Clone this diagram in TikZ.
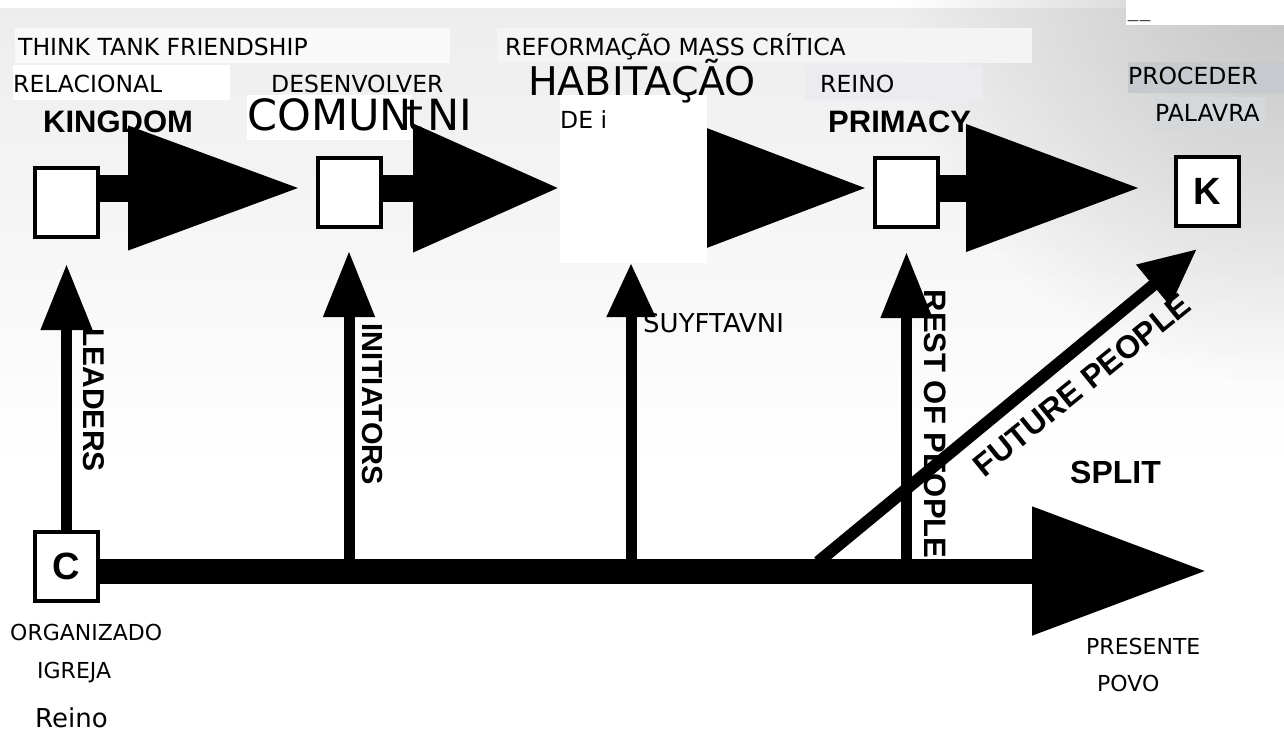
\documentclass[tikz,border=0pt]{standalone}
\usepackage{fontspec}
\setmainfont{DejaVu Sans}
\newfontfamily\arialf{Liberation Sans}
\usetikzlibrary{arrows.meta,fadings}
\newcommand\fsz[1]{\fontsize{#1}{#1}\selectfont}
\definecolor{reibg}{RGB}{236,236,240}
\definecolor{procbg}{RGB}{198,202,207}
\definecolor{palbg}{RGB}{212,216,218}
\tikzfading[name=cornerfade, inner color=transparent!0, outer color=transparent!100]
\begin{document}
\begin{tikzpicture}[x=1pt,y=-1pt,
  box/.style={draw=black,line width=4pt,fill=white,minimum width=63pt,minimum height=69pt,inner sep=0pt,font=\arialf\bfseries\fsz{38}},
  lbl/.style={inner sep=0pt,anchor=base west,font=\fsz{23.5}},
  boldlbl/.style={inner sep=0pt,font=\arialf\bfseries\fsz{31}},
  bigarrow/.style={line width=27pt},
  uparrow/.style={line width=11pt,-{Triangle[length=66pt,width=49pt]}},
  cover/.style={draw=none}]
\useasboundingbox (0,0) rectangle (1284,731);
% background
\begin{scope}
\clip (0,0) rectangle (1284,731);
\fill[white] (0,0) rectangle (1284,731);
\shade[top color=gray!14, bottom color=white] (0,8) rectangle (1284,470);
\fill[gray!45, path fading=cornerfade] (900,-380) rectangle (1660,380);
\end{scope}
% boxes
\node[box] (b1) at (66.5,202.5) {};
\node[box] (b2) at (349,192.5) {};
\node[box] (b4) at (906.5,192.5) {};
\node[box] (bK) at (1207.5,191.5) {K};
\node[box] (bC) at (66.5,566) {C};
\coordinate (hab) at (633,188);
\coordinate (t2) at (560,188);
\coordinate (t3) at (631,263);
\coordinate (mainend) at (1207,571);
\coordinate (j2) at (349,571);
\coordinate (j3) at (631,571);
\coordinate (j4) at (906.5,571);
\coordinate (j5) at (818,562);
\coordinate (fut) at (1197,249);
% top arrows
\draw[bigarrow,-{Triangle[length=173pt,width=117pt]},shorten >=14.5pt] ([yshift=14.5pt]b1.east) -- ([yshift=4.5pt]b2.west);
\draw[bigarrow,-{Triangle[length=147pt,width=121pt]}] ([yshift=4.5pt]b2.east) -- (t2);
\draw[bigarrow,-{Triangle[length=163pt,width=113pt]},shorten >=5pt] (hab) -- ([yshift=4.5pt]b4.west);
\draw[bigarrow,-{Triangle[length=175pt,width=120pt]},shorten >=33pt] ([yshift=4.5pt]b4.east) -- ([yshift=3.5pt]bK.west);
% vertical arrows
\draw[uparrow] (bC.north) -- ([yshift=-25pt]b1.south);
\draw[uparrow] (j2) -- ([yshift=-22pt]b2.south);
\draw[line width=11pt,-{Triangle[length=54pt,width=46pt]}] (j3) -- (t3);
\draw[uparrow] (j4) -- ([yshift=-23pt]b4.south);
\draw[line width=12pt,-{Triangle[length=57pt,width=50pt]}] (j5) -- (fut);
% main arrow
\draw[line width=25pt,-{Triangle[length=175pt,width=122pt]}] ([yshift=-5pt]bC.east) -- (mainend);
% english labels
\node[boldlbl,anchor=base west] (kg) at (43,132) {KINGDOM};
\node[boldlbl,anchor=base west] (pr) at (828,132) {PRIMACY};
\node[boldlbl,anchor=base west,font=\arialf\bfseries\fsz{32}] (sp) at (1070,483) {SPLIT};
\node[boldlbl,rotate=-90,font=\arialf\bfseries\fsz{30}] (ld) at (94,400) {LEADERS};
\node[boldlbl,rotate=-90,font=\arialf\bfseries\fsz{29}] (in) at (372,404) {INITIATORS};
\node[boldlbl,rotate=-90,font=\arialf\bfseries\fsz{31}] (rp) at (935,424) {REST OF PEOPLE};
\node[boldlbl,rotate=39,font=\arialf\bfseries\fsz{32}] (fp) at (1082,385) {FUTURE PEOPLE};
% overlay backgrounds
\fill[cover,white] (1126,0) rectangle (1284,25);
\fill[cover,gray!5] (15,28) rectangle (450,63);
\fill[cover,gray!9] (497,28) rectangle (1032,63);
\fill[cover,white] (13,65) rectangle (230,100);
\fill[cover,white] (247,95) rectangle (412,140);
\fill[cover,reibg] (805,65) rectangle (983,100);
\fill[cover,procbg] (1128,62) rectangle (1284,93);
\fill[cover,palbg] (1155,97) rectangle (1265,130);
\fill[cover,white] (560,95) rectangle (707,263);
% overlay labels
\node[lbl,font=\fsz{12}] (dash) at (1127,24) {——};
\node[lbl] (tt) at (18,55) {THINK TANK FRIENDSHIP};
\node[lbl] (rel) at (13,92) {RELACIONAL};
\node[lbl] (des) at (271,92) {DESENVOLVER};
\node[lbl,font=\fsz{43}] (com) at (247,130) {COMUN};
\node[lbl,font=\fsz{43}] (comt) at (406,130) {t};
\node[lbl,font=\fsz{43}] (comn) at (427,130) {NI};
\node[lbl] (ref) at (505,55) {REFORMAÇÃO MASS CRÍTICA};
\node[lbl,font=\fsz{39.5}] (habt) at (528,95) {HABITAÇÃO};
\node[lbl] (dei) at (560,128) {DE i};
\node[lbl] (rei) at (820,92) {REINO};
\node[lbl] (proc) at (1128,84) {PROCEDER};
\node[lbl] (pal) at (1155,121) {PALAVRA};
\node[lbl,font=\fsz{26}] (suy) at (643,332) {SUYFTAVNI};
\node[lbl,font=\fsz{22}] (org) at (10,640) {ORGANIZADO};
\node[lbl,font=\fsz{22}] (igr) at (37,678) {IGREJA};
\node[lbl,font=\fsz{26}] (rno) at (35,727) {Reino};
\node[lbl,font=\fsz{22}] (pres) at (1086,654) {PRESENTE};
\node[lbl,font=\fsz{22}] (povo) at (1097,691) {POVO};
\end{tikzpicture}
\end{document}
